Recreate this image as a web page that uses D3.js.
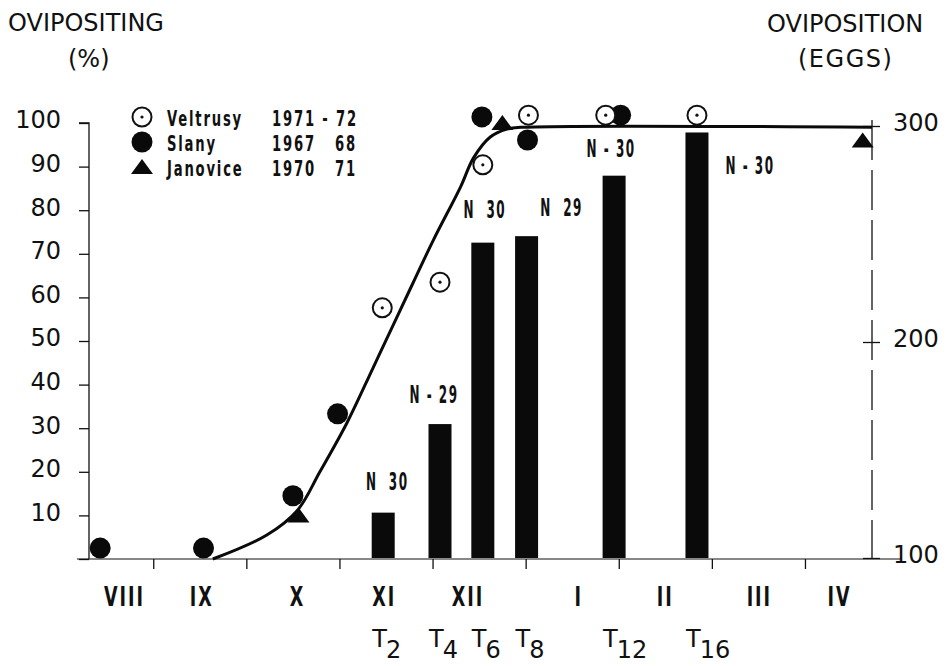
<!DOCTYPE html>
<html>
<head>
<meta charset="utf-8">
<script src="https://cdn.jsdelivr.net/npm/d3@7"></script>
<style>
  html, body { margin: 0; padding: 0; background: #fff; }
  svg { display: block; }
  svg text { white-space: pre; }
  .axis path, .axis line { stroke: #111; }
</style>
</head>
<body>
<svg id="chart" width="946" height="666"></svg>
<script>
// ---- data ----
// month labels (VIII .. IV of the following year) and their positions in month units
const months   = ["VIII", "IX", "X", "XI", "XII", "I", "II", "III", "IV"];
const monthPos = [8.69, 9.52, 10.55, 11.48, 12.38, 13.57, 14.5, 15.51, 16.37];
const monthTicks = [9, 10, 11, 12, 13, 14, 15, 16];

// ovipositing females (%), [month, percent]
const veltrusy = [[11.46, 57.6], [12.08, 63.5], [12.54, 90.4], [13.03, 101.8], [13.86, 101.8], [14.84, 101.8]];
const slany    = [[8.43, 2.5], [9.54, 2.5], [10.50, 14.5], [10.98, 33.3], [12.53, 101.4], [13.02, 96.1], [14.02, 101.8]];
const janovice = [[10.56, 10], [12.75, 100], [16.62, 96]];

// fitted curve through the ovipositing percentages
const fitCurve = [[9.64, 0], [10.22, 5.5], [10.55, 11.2], [10.79, 20], [11.08, 31.2], [11.36, 43.8],
                  [11.62, 55.6], [11.79, 63.3], [12.01, 73.2], [12.30, 85.3], [12.44, 92],
                  [12.62, 96.8], [12.80, 98.6], [12.95, 99], [16.72, 99]];

// oviposition (eggs per female) at the sampling dates T2..T16
const tSub    = ["2", "4", "6", "8", "12", "16"];
const tPos    = [11.47, 12.08, 12.54, 13.01, 13.95, 14.84];
const eggs    = [121, 162, 246, 249, 277, 297];
const nLabels = ["N  30", "N - 29", "N  30", "N  29", "N - 30", "N - 30"];

const leftTicks  = [0, 10, 20, 30, 40, 50, 60, 70, 80, 90, 100];
const rightTicks = [100, 200, 300];

const legendRows = [
  { sym: "dotCircle", name: "Veltrusy", years: "1971 - 72" },
  { sym: "disc",      name: "Slany",    years: "1967   68" },
  { sym: "triangle",  name: "Janovice", years: "1970   71" }
];

// ---- layout ----
const svg = d3.select("#chart");
const x  = d3.scaleLinear().domain([8.31, 16.72]).range([89, 872]);
const yL = d3.scaleLinear().domain([0, 100]).range([559, 123]);
const yR = d3.scaleLinear().domain([100, 300]).range([558, 126]);

const mainFont = "'DejaVu Sans', sans-serif";
const narrowFont = "'DejaVu Sans', sans-serif";

// narrow bold lettering (horizontally compressed)
function narrowText(g, px, py, str, size, sx, anchor, spacing) {
  return g.append("text")
    .attr("transform", `translate(${px},${py}) scale(${sx},1)`)
    .attr("text-anchor", anchor || "start")
    .style("font-family", narrowFont)
    .style("font-weight", "bold")
    .style("font-size", size + "px")
    .style("letter-spacing", (spacing || 0) + "px")
    .attr("fill", "#111")
    .text(str);
}

// ---- axis titles ----
const titleStyle = t => t.style("font-family", mainFont).style("font-size", "24px").attr("fill", "#111");
svg.append("text").attr("x", 8).attr("y", 31).text("OVIPOSITING").call(titleStyle);
svg.append("text").attr("x", 68).attr("y", 67).text("(%)").call(titleStyle);
svg.append("text").attr("x", 767).attr("y", 32).text("OVIPOSITION").call(titleStyle);
svg.append("text").attr("x", 798).attr("y", 67).text("(EGGS)").style("letter-spacing", "1.5px").call(titleStyle);

// ---- left axis ----
const gL = svg.append("g").attr("class", "axis").attr("transform", `translate(${x.range()[0]},0)`)
  .call(d3.axisLeft(yL).tickValues(leftTicks).tickSize(10).tickPadding(18)
        .tickFormat(d => d === 0 ? "" : d));
gL.select(".domain").attr("stroke-width", 1.3).attr("d", `M-10,${yL(100)}H0V${yL(0)}`);
gL.selectAll(".tick line").attr("stroke-width", 1.3);
gL.selectAll(".tick text")
  .attr("dy", "0.2em")
  .style("font-family", mainFont).style("font-size", "24px").attr("fill", "#111");

// ---- right axis ----
const gR = svg.append("g").attr("class", "axis").attr("transform", `translate(${x.range()[1]},0)`)
  .call(d3.axisRight(yR).tickValues(rightTicks).tickSize(8).tickPadding(13));
gR.select(".domain").attr("stroke-width", 1.3).attr("stroke-dasharray", "40,10")
  .attr("d", `M0,${yR(300) - 6}V${yR(100)}`);
gR.selectAll(".tick line").attr("stroke-width", 1.3).attr("x1", -9);
gR.selectAll(".tick text")
  .attr("dy", "0.2em")
  .style("font-family", mainFont).style("font-size", "24px").attr("fill", "#111");

// ---- bottom axis (month boundaries) ----
const gB = svg.append("g").attr("class", "axis").attr("transform", `translate(0,${yL(0)})`)
  .call(d3.axisBottom(x).tickValues(monthTicks).tickSize(10).tickFormat(""));
gB.select(".domain").attr("stroke", "#666").attr("stroke-width", 1)
  .attr("d", `M${x.range()[0] - 12},0H${x.range()[1] + 30}`);
gB.selectAll(".tick line").attr("stroke-width", 1.3);

// month names
months.forEach((m, i) => narrowText(svg, x(monthPos[i]), 606, m, 27, 0.65, "middle", 3));

// ---- bars: eggs per female ----
const barW = 23;
svg.append("g").selectAll("rect").data(eggs).join("rect")
  .attr("x", (d, i) => x(tPos[i]) - barW / 2)
  .attr("y", d => yR(d))
  .attr("width", barW)
  .attr("height", d => yR(100) - yR(d))
  .attr("fill", "#0a0a0a");

// sample sizes above/beside the bars
const nShift = [[4, -23], [-6, -21], [2, -25], [35, -20], [-3, -19], [53, 42]];
nLabels.forEach((s, i) => {
  narrowText(svg, x(tPos[i]) + nShift[i][0], yR(eggs[i]) + nShift[i][1], s, 24, 0.5, "middle", 3);
});

// sampling date labels T2..T16
tSub.forEach((s, i) => {
  const t = svg.append("text")
    .attr("x", x(tPos[i]) - 11).attr("y", 647)
    .style("font-family", mainFont).style("font-size", "24px").attr("fill", "#111");
  t.append("tspan").text("T");
  t.append("tspan").attr("dy", 11).attr("dx", -1).text(s);
});

// ---- fitted curve ----
const line = d3.line().x(d => x(d[0])).y(d => yL(d[1])).curve(d3.curveCatmullRom.alpha(0.5));
svg.append("path").datum(fitCurve).attr("d", line)
  .attr("fill", "none").attr("stroke", "#0a0a0a").attr("stroke-width", 3);

// ---- symbols ----
const R = 10.5;
function dotCircle(g, cx, cy) {
  g.append("circle").attr("cx", cx).attr("cy", cy).attr("r", R - 1)
    .attr("fill", "#fff").attr("stroke", "#111").attr("stroke-width", 2);
  g.append("circle").attr("cx", cx).attr("cy", cy).attr("r", 1.6).attr("fill", "#111");
}
function disc(g, cx, cy) {
  g.append("circle").attr("cx", cx).attr("cy", cy).attr("r", R).attr("fill", "#0a0a0a");
}
function triangle(g, cx, cy) {
  g.append("path").attr("d", `M${cx - 11},${cy + 7}L${cx},${cy - 8}L${cx + 11},${cy + 7}Z`)
    .attr("fill", "#0a0a0a");
}
const gPts = svg.append("g");
janovice.forEach(d => triangle(gPts, x(d[0]), yL(d[1])));
slany.forEach(d => disc(gPts, x(d[0]), yL(d[1])));
veltrusy.forEach(d => dotCircle(gPts, x(d[0]), yL(d[1])));

// ---- legend ----
const gLeg = svg.append("g");
const drawSym = { dotCircle, disc, triangle };
legendRows.forEach((r, i) => {
  const cy = 117 + i * 25;
  drawSym[r.sym](gLeg, 142, cy);
  narrowText(gLeg, 167, cy + 9, r.name, 22, 0.6, "start", 3);
  narrowText(gLeg, 272, cy + 9, r.years, 22, 0.6, "start", 3);
});
</script>
</body>
</html>
